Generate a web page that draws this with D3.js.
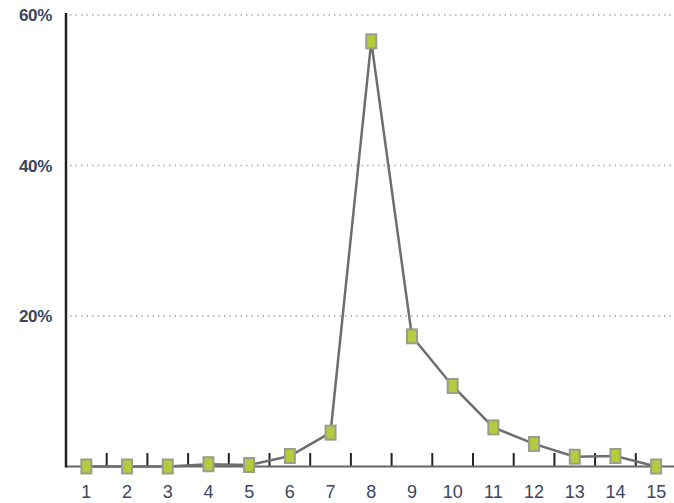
<!DOCTYPE html>
<html><head><meta charset="utf-8">
<script src="https://cdn.jsdelivr.net/npm/d3@7"></script>
<style>body{margin:0;background:#fff;}svg{display:block;}</style>
</head><body>
<svg id="c" width="674" height="503"></svg>
<script>
const categories = ["1","2","3","4","5","6","7","8","9","10","11","12","13","14","15"];
const values = [0, 0, 0, 0.3, 0.2, 1.4, 4.5, 56.5, 17.3, 10.7, 5.2, 3.0, 1.3, 1.4, 0];
const yTicks = [20, 40, 60];
const yTickLabels = ["20%", "40%", "60%"];

const svg = d3.select("#c");
const x = d3.scaleBand().domain(categories).range([66, 676.5]).padding(0);
const y = d3.scaleLinear().domain([0, 60]).range([466.5, 15]);

// gridlines
svg.append("g").selectAll("line").data(yTicks).join("line")
  .attr("x1", 70).attr("x2", 674)
  .attr("y1", d => y(d)).attr("y2", d => y(d))
  .attr("stroke", "#a8a8a8").attr("stroke-width", 1.5).attr("stroke-dasharray", "1.5,4");

// y labels
svg.append("g").selectAll("text").data(yTicks).join("text")
  .attr("x", 52).attr("y", d => y(d)).attr("dy", "0.36em")
  .attr("text-anchor", "end")
  .attr("font-family", "'Liberation Sans', Arial, sans-serif")
  .attr("font-weight", "bold").attr("font-size", 17).attr("fill", "#3b4560")
  .attr("letter-spacing", "-0.3")
  .text((d, i) => yTickLabels[i]);

// x axis ticks at inner band boundaries
const bounds = categories.slice(1).map(c => x(c));
svg.append("g").selectAll("line").data(bounds).join("line")
  .attr("x1", d => d).attr("x2", d => d)
  .attr("y1", 453).attr("y2", y(0))
  .attr("stroke", "#222").attr("stroke-width", 2);

// axis lines
svg.append("line").attr("x1", 66).attr("x2", 674).attr("y1", y(0)).attr("y2", y(0))
  .attr("stroke", "#666").attr("stroke-width", 2);
svg.append("line").attr("x1", 66).attr("x2", 66).attr("y1", 13).attr("y2", y(0) + 1)
  .attr("stroke", "#222").attr("stroke-width", 2.5);

// x labels
svg.append("g").selectAll("text").data(categories).join("text")
  .attr("x", d => x(d) + x.bandwidth() / 2).attr("y", 498)
  .attr("text-anchor", "middle")
  .attr("font-family", "'Liberation Sans', Arial, sans-serif")
  .attr("font-size", 18).attr("fill", "#3b4560")
  .text(d => d);

// line
const line = d3.line().x((d, i) => x(categories[i]) + x.bandwidth() / 2).y(d => y(d));
svg.append("path").datum(values).attr("d", line)
  .attr("fill", "none").attr("stroke", "#6e6e6e").attr("stroke-width", 2.5);

// markers
svg.append("g").selectAll("rect").data(values).join("rect")
  .attr("x", (d, i) => x(categories[i]) + x.bandwidth() / 2 - 5)
  .attr("y", d => y(d) - 7)
  .attr("width", 10).attr("height", 14)
  .attr("fill", "#b4cc3c").attr("stroke", "#9a9c8c").attr("stroke-width", 2);
</script>
</body></html>
